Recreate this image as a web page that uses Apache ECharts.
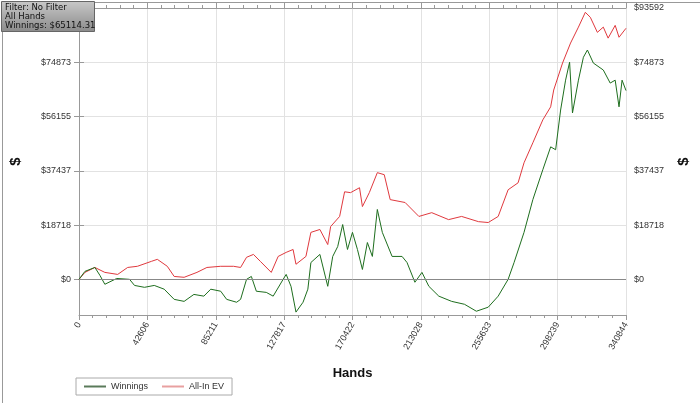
<!DOCTYPE html>
<html>
<head>
<meta charset="utf-8">
<script src="https://cdn.jsdelivr.net/npm/echarts@6/dist/echarts.min.js"></script>
<style>
html,body{margin:0;padding:0;background:#fff;}
#main{width:700px;height:403px;}
</style>
</head>
<body>
<div id="main"></div>
<script>
// hands / cumulative $
var winningsHands = [0,3700,9900,13000,16100,23500,31500,34600,40800,46900,53100,59300,65500,71600,77800,82100,88300,92000,98200,100700,104400,107400,110500,116700,121000,127200,129100,132100,135200,139600,142600,144500,150100,155000,158100,161200,164300,167300,170400,173500,176600,179700,182800,185900,189000,195100,201300,204400,209300,213700,218000,224200,232200,240200,247600,255000,261200,267400,271100,277300,282800,289000,293900,297000,300100,303200,305700,307500,311200,314300,316800,320500,326700,331000,334100,336500,338400,340844];
var winnings = [0,2750,4100,1400,-1700,300,0,-2100,-2750,-2100,-3400,-6900,-7600,-5200,-5800,-3400,-4100,-6900,-7900,-6900,0,1000,-4100,-4500,-5800,0,1700,-2400,-11300,-7900,-3400,5800,8600,-2400,7900,11300,18900,10300,16200,10300,3400,12700,7900,24100,16200,7900,7900,5800,-1000,2400,-2400,-5800,-7600,-8600,-11000,-9600,-5800,0,5800,16200,27500,37800,45700,44700,58400,68700,74900,57400,68700,76600,79100,74600,72200,67700,68700,59500,68700,65114];

var evHands = [0,3700,9900,16100,24100,30300,36400,45100,48800,55000,59300,65500,73500,79700,88300,96300,100700,104400,108700,113000,119800,124100,129100,133400,135200,141400,144500,150100,155000,156800,162400,165500,169200,174800,176600,180900,185900,190200,193900,203200,211800,219800,230300,238400,248900,255000,261200,267400,273600,277300,282800,289000,293900,295800,301300,306300,311200,315500,318600,323000,326700,329700,334100,336500,340844];
var allInEV = [0,2400,4100,2400,1700,4100,4500,6200,6900,4500,1000,700,2400,4100,4500,4500,4100,7600,8600,6200,2400,7900,9300,10300,5200,7900,16200,17200,12000,18200,21700,30200,29900,31600,25100,29900,36800,36100,27500,26500,21700,23000,20600,21700,19900,19600,21700,30900,33300,40200,47100,55000,59500,65300,74600,81500,87000,92100,90400,85200,87000,83200,87600,83500,86600];

var yTicks = [0, 18718, 37437, 56155, 74873, 93592];
var handsMax = 340844;

function pairs(xs, ys) {
    var out = [];
    for (var i = 0; i < xs.length; i++) out.push([xs[i], ys[i]]);
    return out;
}

var chart = echarts.init(document.getElementById('main'));

var yAxisBase = function (pos) {
    return {
        type: 'value',
        position: pos,
        min: -12300,
        max: 93592,
        name: '$',
        nameLocation: 'middle',
        nameRotate: 90,
        nameGap: pos === 'left' ? 56 : 50,
        nameTextStyle: {fontSize: 15, fontWeight: 'bold', color: '#111', fontFamily: 'Liberation Sans'},
        axisLine: {show: true, lineStyle: {color: '#999'}},
        axisTick: {show: true, customValues: yTicks, length: 5, lineStyle: {color: '#999'}},
        axisLabel: {customValues: yTicks, fontSize: 9, color: '#333', fontFamily: 'Liberation Sans',
            formatter: function (v) { return '$' + v; }},
        splitLine: {show: pos === 'left', lineStyle: {color: '#e2e2e2'}}
    };
};

var option = {
    backgroundColor: '#fff',
    animation: false,
    grid: {left: 74, right: 74, top: 8, bottom: 88},
    legend: {
        left: 76, top: 378,
        itemWidth: 22, itemHeight: 2, itemGap: 14,
        padding: [4, 8],
        borderColor: '#aaa', borderWidth: 1,
        textStyle: {fontSize: 9, color: '#333', fontFamily: 'Liberation Sans'},
        data: [{name: 'Winnings', icon: 'rect'}, {name: 'All-In EV', icon: 'rect'}]
    },
    xAxis: [{
        type: 'value',
        min: 0,
        max: handsMax,
        interval: handsMax / 8,
        name: 'Hands',
        nameLocation: 'middle',
        nameGap: 52,
        nameTextStyle: {fontSize: 13, fontWeight: 'bold', color: '#111', fontFamily: 'Liberation Sans'},
        axisLine: {onZero: false, lineStyle: {color: '#999'}},
        axisTick: {lineStyle: {color: '#999'}, length: 5},
        minorTick: {show: true, splitNumber: 5, length: 3, lineStyle: {color: '#999'}},
        axisLabel: {rotate: 60, fontSize: 9, color: '#333', fontFamily: 'Liberation Sans', margin: 8,
            formatter: function (v) { return String(Math.round(v)); }},
        splitLine: {lineStyle: {color: '#e2e2e2'}}
    }, {
        type: 'value',
        position: 'top',
        min: 0,
        max: handsMax,
        interval: handsMax / 8,
        axisLine: {show: true, onZero: false, lineStyle: {color: '#999'}},
        axisTick: {show: true, length: 5, lineStyle: {color: '#999'}},
        minorTick: {show: true, splitNumber: 5, length: 3, lineStyle: {color: '#999'}},
        axisLabel: {show: false},
        splitLine: {show: false}
    }],
    yAxis: [yAxisBase('left'), yAxisBase('right')],
    graphic: [{
        type: 'rect',
        left: 0, top: 0,
        shape: {x: 0.5, y: 0.5, width: 698, height: 401},
        style: {fill: 'none', stroke: '#999', lineWidth: 1},
        silent: true
    }, {
        type: 'rect',
        left: 1, top: 1,
        shape: {width: 93, height: 30},
        style: {
            fill: new echarts.graphic.LinearGradient(0, 0, 0, 1, [
                {offset: 0, color: '#c8c8c8'}, {offset: 1, color: '#8a8a8a'}
            ]),
            stroke: '#666', lineWidth: 1
        },
        z: 10
    }, {
        type: 'text',
        left: 5, top: 3,
        style: {
            text: 'Filter: No Filter\nAll Hands\nWinnings: $65114.31',
            fill: '#111', fontSize: 8.5, lineHeight: 9, fontFamily: 'DejaVu Sans'
        },
        z: 11
    }],
    series: [{
        name: 'Winnings',
        type: 'line',
        data: pairs(winningsHands, winnings),
        showSymbol: false,
        lineStyle: {color: '#1e6e1e', width: 1},
        itemStyle: {color: '#5a7a5a'},
        markLine: {
            silent: true, symbol: 'none', label: {show: false},
            lineStyle: {color: '#888', type: 'solid', width: 1},
            data: [{yAxis: 0}]
        },
        z: 3
    }, {
        name: 'All-In EV',
        type: 'line',
        data: pairs(evHands, allInEV),
        showSymbol: false,
        lineStyle: {color: '#e0393e', width: 1},
        itemStyle: {color: '#e8a0a0'},
        z: 2
    }]
};

chart.setOption(option);
</script>
</body>
</html>
